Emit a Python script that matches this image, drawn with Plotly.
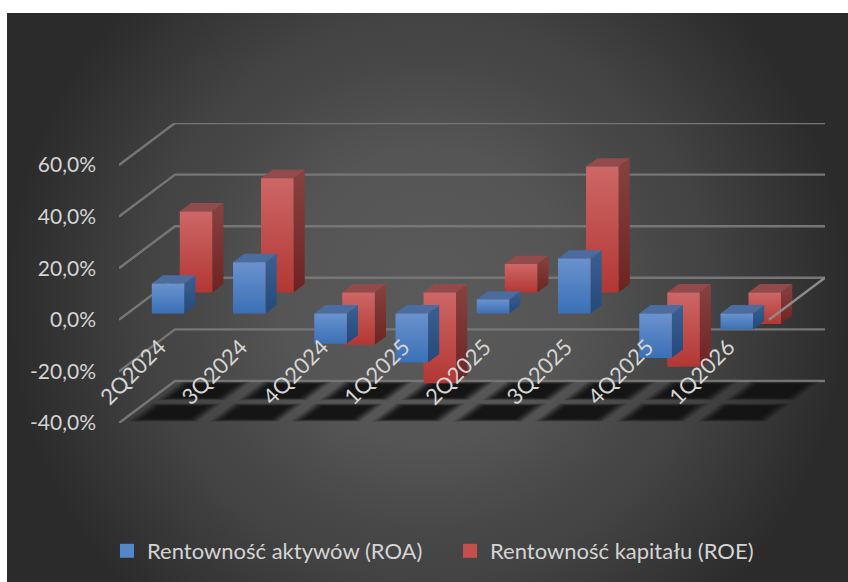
import plotly.graph_objects as go

# ---- data ----
categories = ["2Q2024", "3Q2024", "4Q2024", "1Q2025", "2Q2025", "3Q2025", "4Q2025", "1Q2026"]
roa = [11.6, 19.9, -11.7, -19.0, 5.4, 21.3, -17.2, -6.2]
roe = [31.4, 44.3, -20.3, -35.2, 11.0, 48.8, -28.8, -12.2]
y_ticks = [-40, -20, 0, 20, 40, 60]
y_labels = ["-40,0%", "-20,0%", "0,0%", "20,0%", "40,0%", "60,0%"]
roa_name = "Rentowność aktywów (ROA)"
roe_name = "Rentowność kapitału (ROE)"

# ---- oblique projection (depth shift in axis units) ----
W, H = 848, 582
DX = 56 / 81.25
DY = 42 / 2.58
NC = len(categories)


def pr(x, d, y):
    return x + DX * d, y + DY * d


fig = go.Figure()

# background panel: a square (so the radial fill is circular) clipped by its own axes
fig.add_trace(go.Scatter(
    x=[7, 849, 849, 7, 7], y=[-124, -124, 718, 718, -124], mode="lines", line=dict(width=0),
    fill="toself", hoverinfo="skip", showlegend=False,
    fillgradient=dict(type="radial", colorscale=[
        [0, "#5a5a5a"], [0.35, "#555555"], [0.55, "#484848"], [0.67, "#434343"], [1, "#2b2b2b"]]),
    xaxis="x", yaxis="y"))


def poly(pts, **kw):
    xs = [p[0] for p in pts] + [pts[0][0]]
    ys = [p[1] for p in pts] + [pts[0][1]]
    fig.add_trace(go.Scatter(x=xs, y=ys, mode="lines", line=dict(width=0), fill="toself",
                             hoverinfo="skip", showlegend=False, xaxis="x2", yaxis="y2", **kw))


# gridlines
for t in y_ticks:
    a, b, c = pr(0, 0, t), pr(0, 1, t), pr(NC, 1, t)
    fig.add_trace(go.Scatter(x=[a[0], b[0], c[0]], y=[a[1], b[1], c[1]], mode="lines",
                             line=dict(color="#767676", width=2.4), hoverinfo="skip", showlegend=False,
                             xaxis="x2", yaxis="y2"))

# floor shadows, soft edge built from stacked polygons
for d0, d1 in [(0.07, 0.43), (0.58, 0.95)]:
    for c in range(NC):
        for grow, alpha in [(0.08, 0.12), (0.06, 0.15), (0.04, 0.2), (0.02, 0.25), (0.0, 0.3),
                            (-0.02, 0.35), (-0.04, 0.4), (-0.06, 0.5), (-0.08, 0.6)]:
            x0, x1 = c + 0.17 - grow, c + 0.86 + grow
            e0, e1 = d0 - grow * 0.45, d1 + grow * 0.45
            poly([pr(x0, e0, -40), pr(x1, e0, -40), pr(x1, e1, -40), pr(x0, e1, -40)],
                 fillcolor=f"rgba(20,20,20,{alpha})")

STYLES = {
    0: dict(front=["#3a70b6", "#6a92ce"], side=["#234a7a", "#3b5f92"], top=["#4a6c9f", "#4a6c9f"]),
    1: dict(front=["#b23734", "#cd6766"], side=["#6f2321", "#874240"], top=["#924b4a", "#924b4a"]),
}


def bars(values, slot):
    st = STYLES[slot]
    d0 = 0.15 + 0.5 * slot
    d1 = d0 + 0.2
    for c, v in enumerate(values):
        x0, x1 = c + 0.3, c + 0.7
        lo, hi = min(v, 0), max(v, 0)
        for key, pts in (
            ("top", [pr(x0, d0, hi), pr(x1, d0, hi), pr(x1, d1, hi), pr(x0, d1, hi)]),
            ("side", [pr(x1, d0, lo), pr(x1, d1, lo), pr(x1, d1, hi), pr(x1, d0, hi)]),
            ("front", [pr(x0, d0, lo), pr(x1, d0, lo), pr(x1, d0, hi), pr(x0, d0, hi)]),
        ):
            cols = st[key]
            poly(pts, fillgradient=dict(type="vertical", colorscale=[[0, cols[0]], [1, cols[1]]]))


bars(roe, 1)
bars(roa, 0)

# right edge of the floor at zero, over the bars
a, b = pr(NC, 0, 0), pr(NC, 1, 0)
fig.add_trace(go.Scatter(x=[a[0], b[0]], y=[a[1], b[1]], mode="lines",
                         line=dict(color="#8c8c8c", width=2.4), hoverinfo="skip", showlegend=False,
                         xaxis="x2", yaxis="y2"))

# legend entries
for name, col in ((roa_name, "#5587c8"), (roe_name, "#c4504e")):
    fig.add_trace(go.Scatter(x=[None], y=[None], mode="markers", name=name,
                             marker=dict(symbol="square", size=14, color=col),
                             xaxis="x2", yaxis="y2"))

TXT = dict(family="Lato, Carlito, sans-serif", size=21, color="#d4d4d4")

fig.update_layout(
    width=W, height=H, margin=dict(l=0, r=0, t=0, b=0, pad=0, autoexpand=False), autosize=False,
    paper_bgcolor="white", plot_bgcolor="rgba(0,0,0,0)", hovermode=False,
    xaxis=dict(domain=[7 / W, 1], range=[7, 848], visible=False, fixedrange=True),
    yaxis=dict(domain=[0, 1 - 13 / H], range=[582, 13], visible=False, fixedrange=True),
    xaxis2=dict(domain=[119 / W, 825 / W], range=[0, NC + DX], anchor="free", position=(H - 320) / H,
                tickvals=[c + 0.5 for c in range(NC)], ticktext=categories, tickangle=-45,
                showgrid=False, zeroline=False, showline=False, ticks="",
                tickfont=dict(TXT, size=22), fixedrange=True, ticklabelstandoff=9),
    yaxis2=dict(domain=[1 - 423 / H, 1 - 123 / H], range=[-40, -40 + 300 / 2.58], anchor="x2",
                tickvals=y_ticks, ticktext=y_labels, showgrid=False, zeroline=False, showline=False,
                ticks="", tickfont=TXT, fixedrange=True, ticklabelstandoff=22),
    legend=dict(orientation="h", x=107 / W, xanchor="left", y=1 - 551 / H, yanchor="middle",
                font=dict(TXT, size=22), bgcolor="rgba(0,0,0,0)", entrywidth=298, entrywidthmode="pixels",
                itemclick=False, itemdoubleclick=False),
    showlegend=True,
)

fig.write_html("out.html", config=dict(displayModeBar=False),
               post_script="document.body.style.margin='0';")
